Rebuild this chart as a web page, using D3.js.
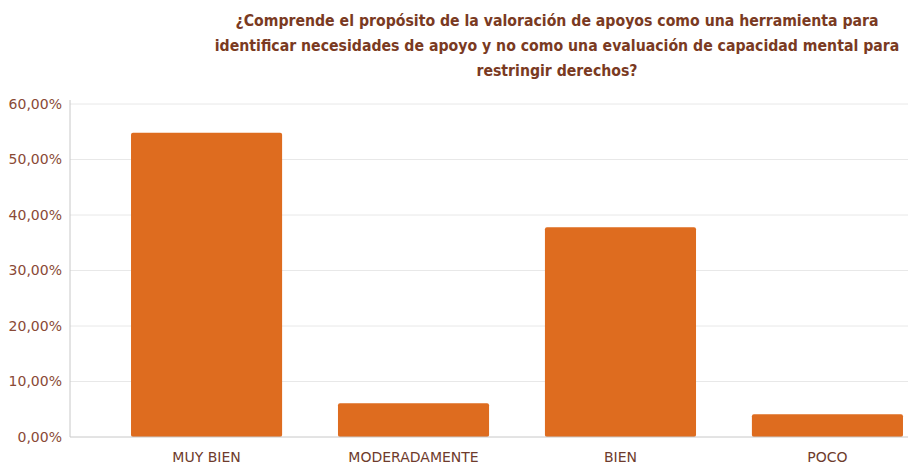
<!DOCTYPE html>
<html>
<head>
<meta charset="utf-8">
<script src="https://cdn.jsdelivr.net/npm/d3@7"></script>
<style>
  body { margin: 0; background: #fff; }
  svg { display: block; }
</style>
</head>
<body>
<svg id="chart"></svg>
<script>
const categories = ["MUY BIEN", "MODERADAMENTE", "BIEN", "POCO"];
const values = [54.8, 6.1, 37.8, 4.1];
const yTicks = [0, 10, 20, 30, 40, 50, 60];
const titleLines = [
  "¿Comprende el propósito de la valoración de apoyos como una herramienta para",
  "identificar necesidades de apoyo y no como una evaluación de capacidad mental para",
  "restringir derechos?"
];

const width = 908;
const height = 468;
const margin = { top: 104, right: 0, bottom: 31, left: 70 };

const svg = d3.select("#chart")
  .attr("width", width)
  .attr("height", height);

const locale = d3.formatLocale({ decimal: ",", thousands: ".", grouping: [3], currency: ["", "€"] });
const fmt = v => locale.format(".2f")(v) + "%";

const x = d3.scaleBand()
  .domain(categories)
  .range([71, 963])
  .paddingInner(0.27)
  .paddingOuter(0.29);

const y = d3.scaleLinear()
  .domain([0, 60])
  .range([height - margin.bottom, margin.top]);

// gridlines
svg.append("g")
  .selectAll("line")
  .data(yTicks.filter(d => d > 0))
  .join("line")
  .attr("x1", margin.left)
  .attr("x2", width)
  .attr("y1", d => y(d))
  .attr("y2", d => y(d))
  .attr("stroke", "#e8e8e8")
  .attr("stroke-width", 1);

// bars
svg.append("g")
  .selectAll("rect")
  .data(categories)
  .join("rect")
  .attr("x", d => x(d))
  .attr("y", (d, i) => y(values[i]))
  .attr("width", x.bandwidth())
  .attr("height", (d, i) => y(0) - y(values[i]))
  .attr("rx", 2)
  .attr("fill", "#de6c1f");

// axis lines
svg.append("line")
  .attr("x1", margin.left).attr("x2", margin.left)
  .attr("y1", y(60) - 4).attr("y2", y(0))
  .attr("stroke", "#c8c8c8");

svg.append("line")
  .attr("x1", margin.left).attr("x2", width)
  .attr("y1", y(0)).attr("y2", y(0))
  .attr("stroke", "#c8c8c8");

// y tick labels
svg.append("g")
  .selectAll("text")
  .data(yTicks)
  .join("text")
  .attr("x", 62)
  .attr("y", d => y(d))
  .attr("dy", "0.35em")
  .attr("text-anchor", "end")
  .attr("font-family", "'DejaVu Sans', sans-serif")
  .attr("font-size", 14)
  .attr("fill", "#8a4a36")
  .text(d => fmt(d));

// x labels
svg.append("g")
  .selectAll("text")
  .data(categories)
  .join("text")
  .attr("x", d => x(d) + x.bandwidth() / 2)
  .attr("y", 462)
  .attr("text-anchor", "middle")
  .attr("font-family", "'DejaVu Sans', sans-serif")
  .attr("font-size", 14)
  .attr("fill", "#6e3b2c")
  .text(d => d);

// title, sized so the longest line is about 685px wide
const title = svg.append("text")
  .attr("text-anchor", "middle")
  .attr("font-family", "'DejaVu Sans', sans-serif")
  .style("font-stretch", "condensed")
  .attr("font-weight", "bold")
  .attr("font-size", 18)
  .attr("fill", "#7a3a22");

title.selectAll("tspan")
  .data(titleLines)
  .join("tspan")
  .attr("x", 557)
  .attr("y", (d, i) => 26 + i * 25)
  .text(d => d);

const longest = title.selectAll("tspan").nodes()[1].getComputedTextLength();
title.attr("font-size", 18 * 685 / longest);
</script>
</body>
</html>
